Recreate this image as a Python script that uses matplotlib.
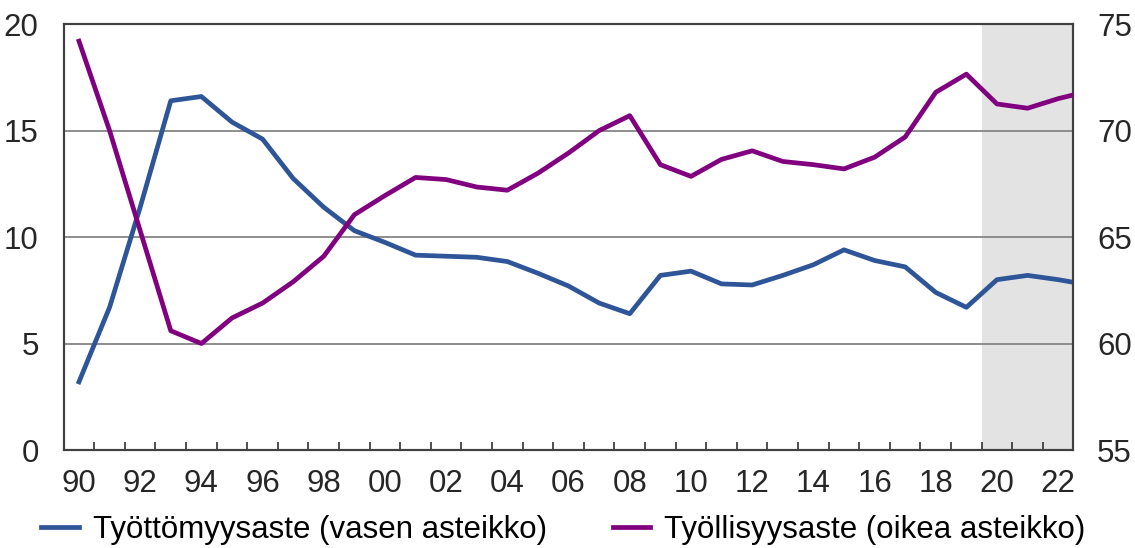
import matplotlib
matplotlib.use("Agg")
import matplotlib.pyplot as plt
import numpy as np

years = list(range(1990, 2024))
unemployment = [3.2, 6.7, 11.4, 16.4, 16.6, 15.4, 14.6, 12.75, 11.4, 10.3,
                9.75, 9.15, 9.1, 9.05, 8.85, 8.3, 7.7, 6.9, 6.4, 8.2,
                8.4, 7.8, 7.75, 8.2, 8.7, 9.4, 8.9, 8.6, 7.4, 6.7,
                8.0, 8.2, 8.0, 7.75]
employment = [74.2, 70.0, 65.3, 60.6, 60.0, 61.2, 61.9, 62.9, 64.1, 66.05,
              66.95, 67.8, 67.7, 67.35, 67.2, 68.0, 68.95, 70.0, 70.7, 68.4,
              67.85, 68.65, 69.05, 68.55, 68.4, 68.2, 68.75, 69.7, 71.8, 72.65,
              71.25, 71.05, 71.5, 71.85]
forecast_start = 2020
first_year, last_shown_year = 1990, 2022
label_years = list(range(1990, 2023, 2))
tick_labels = [f"{y % 100:02d}" for y in label_years]
left_ticks = [0, 5, 10, 15, 20]
right_ticks = [55, 60, 65, 70, 75]
series_names = ["Työttömyysaste (vasen asteikko)", "Työllisyysaste (oikea asteikko)"]

blue = "#2E5597"
purple = "#800080"
spine_c = "#404040"
text_c = "#262626"

plt.rcParams['font.family'] = ['Liberation Sans', 'DejaVu Sans']
fs = 22.5

fig = plt.figure(figsize=(11.35, 5.48), dpi=100)
ax = fig.add_axes([0.0561, 0.1788, 0.8897, 0.7772])
ax2 = ax.twinx()

ax.set_xlim(first_year - 0.5, last_shown_year + 0.5)
ax.set_ylim(0, 20)
ax2.set_ylim(55, 75)

ax.axvspan(forecast_start - 0.5, last_shown_year + 0.5, color="#E3E3E3", zorder=0, lw=0)
for v in left_ticks[1:-1]:
    ax.axhline(v, color="#858585", lw=1.3, zorder=1)

l1, = ax.plot(years, unemployment, color=blue, lw=3.4, zorder=3)
l2, = ax2.plot(years, employment, color=purple, lw=3.4, zorder=3)

ax.set_xticks(label_years)
ax.set_xticklabels(tick_labels, fontsize=fs, color=text_c)
ax.set_xticks(np.arange(first_year + 0.5, last_shown_year + 0.5, 1), minor=True)
ax.tick_params(axis='x', which='major', length=0, pad=14)
ax.tick_params(axis='x', which='minor', direction='in', length=6, width=1.3, color=spine_c)

ax.set_yticks(left_ticks)
ax.set_yticklabels([str(t) for t in left_ticks], fontsize=fs, color=text_c)
ax.tick_params(axis='y', length=0, pad=18)
ax2.set_yticks(right_ticks)
ax2.set_yticklabels([str(t) for t in right_ticks], fontsize=fs, color=text_c)
ax2.tick_params(axis='y', length=0, pad=17)

for a in (ax, ax2):
    for s in a.spines.values():
        s.set_color(spine_c)
        s.set_linewidth(1.5)

fig.legend([l1, l2], series_names, loc='center', bbox_to_anchor=(0.4965, 0.033),
           ncol=2, frameon=False, fontsize=fs, handlelength=1.2, handletextpad=0.45,
           columnspacing=2.1, borderaxespad=0, borderpad=0)

fig.savefig("out.png", dpi=100)
